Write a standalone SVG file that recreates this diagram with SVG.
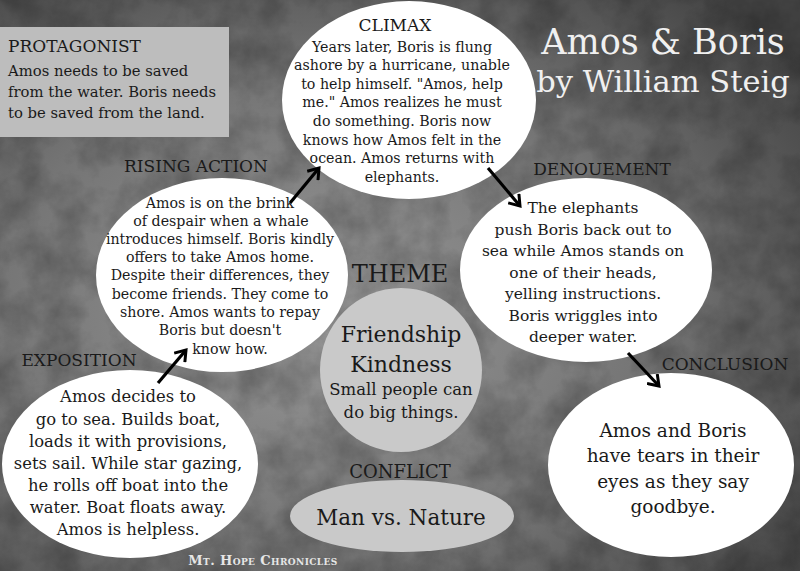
<svg xmlns="http://www.w3.org/2000/svg" width="800" height="571" viewBox="0 0 800 571">
<defs>
<radialGradient id="bg" cx="0.4" cy="0.55" r="0.75">
<stop offset="0" stop-color="#979797"/>
<stop offset="0.55" stop-color="#757575"/>
<stop offset="1" stop-color="#444"/>
</radialGradient>
<filter id="noise" x="0" y="0" width="100%" height="100%">
<feTurbulence type="fractalNoise" baseFrequency="0.025" numOctaves="5" seed="7"/>
<feColorMatrix type="matrix" values="0 0 0 0 0  0 0 0 0 0  0 0 0 0 0  0 0 0 1.1 -0.35"/>
</filter>
<marker id="head" markerWidth="16" markerHeight="16" refX="13" refY="8" orient="auto" markerUnits="userSpaceOnUse">
<path d="M3,1 L13,8 L3,15" fill="none" stroke="#000" stroke-width="3"/>
</marker>
<style>
text{font-family:'DejaVu Serif','Liberation Serif',serif}
.t{fill:#1a1a1a;text-anchor:middle}
.lab{font-size:17px}
.body{font-size:14.2px}
.node{fill:#fff}
.gray{fill:#c9c9c9}
.arrow{stroke:#000;stroke-width:3.2;fill:none;marker-end:url(#head)}
</style>
</defs>
<rect width="800" height="571" fill="url(#bg)"/>
<rect width="800" height="571" filter="url(#noise)" opacity="0.4"/>

<g id="title">
<text x="663" y="54" class="t" style="font-size:35px;fill:#f0f0f0">Amos &amp; Boris</text>
<text x="663" y="92" class="t" style="font-size:30.5px;fill:#f0f0f0">by William Steig</text>
</g>

<g id="protagonist">
<rect x="0" y="27" width="229" height="110" fill="#bdbdbd"/>
<text x="8" y="52" class="t lab" style="text-anchor:start">PROTAGONIST</text>
<text x="8" y="76" class="t" style="text-anchor:start;font-size:14.8px">Amos needs to be saved</text>
<text x="8" y="97" class="t" style="text-anchor:start;font-size:14.8px">from the water. Boris needs</text>
<text x="8" y="118" class="t" style="text-anchor:start;font-size:14.8px">to be saved from the land.</text>
</g>

<g id="climax">
<ellipse cx="409" cy="100" rx="127" ry="99" class="node"/>
<text x="395" y="31" class="t lab">CLIMAX</text>
<text x="402" y="52" class="t body">Years later, Boris is flung</text>
<text x="402" y="70" class="t body">ashore by a hurricane, unable</text>
<text x="402" y="89" class="t body">to help himself. "Amos, help</text>
<text x="402" y="107" class="t body">me." Amos realizes he must</text>
<text x="402" y="126" class="t body">do something. Boris now</text>
<text x="402" y="145" class="t body">knows how Amos felt in the</text>
<text x="402" y="163" class="t body">ocean. Amos returns with</text>
<text x="402" y="182" class="t body">elephants.</text>
</g>

<g id="rising-action">
<ellipse cx="222" cy="275" rx="126" ry="97" class="node"/>
<text x="196" y="172" class="t lab">RISING ACTION</text>
<text x="220" y="208" class="t body">Amos is on the brink</text>
<text x="221" y="226" class="t body">of despair when a whale</text>
<text x="220" y="244" class="t body">introduces himself. Boris kindly</text>
<text x="220" y="262" class="t body">offers to take Amos home.</text>
<text x="220" y="280" class="t body">Despite their differences, they</text>
<text x="220" y="299" class="t body">become friends. They come to</text>
<text x="220" y="317" class="t body">shore. Amos wants to repay</text>
<text x="220" y="335" class="t body">Boris but doesn't</text>
<text x="230" y="354" class="t body">know how.</text>
</g>

<g id="denouement">
<ellipse cx="586" cy="270" rx="126" ry="92" class="node"/>
<text x="602" y="175" class="t lab">DENOUEMENT</text>
<text x="583" y="213" class="t" style="font-size:15.5px">The elephants</text>
<text x="583" y="235" class="t" style="font-size:15.5px">push Boris back out to</text>
<text x="583" y="256" class="t" style="font-size:15.5px">sea while Amos stands on</text>
<text x="583" y="278" class="t" style="font-size:15.5px">one of their heads,</text>
<text x="583" y="299" class="t" style="font-size:15.5px">yelling instructions.</text>
<text x="583" y="321" class="t" style="font-size:15.5px">Boris wriggles into</text>
<text x="583" y="342" class="t" style="font-size:15.5px">deeper water.</text>
</g>

<g id="exposition">
<ellipse cx="130" cy="464" rx="128" ry="94" class="node"/>
<text x="79" y="366" class="t lab">EXPOSITION</text>
<text x="128" y="402" class="t" style="font-size:16.4px">Amos decides to</text>
<text x="128" y="425" class="t" style="font-size:16.4px">go to sea. Builds boat,</text>
<text x="128" y="447" class="t" style="font-size:16.4px">loads it with provisions,</text>
<text x="128" y="469" class="t" style="font-size:16.4px">sets sail. While star gazing,</text>
<text x="128" y="491" class="t" style="font-size:16.4px">he rolls off boat into the</text>
<text x="128" y="513" class="t" style="font-size:16.4px">water. Boat floats away.</text>
<text x="128" y="535" class="t" style="font-size:16.4px">Amos is helpless.</text>
</g>

<g id="conclusion">
<ellipse cx="671" cy="465" rx="123" ry="92" class="node"/>
<text x="725" y="370" class="t lab">CONCLUSION</text>
<text x="673" y="437" class="t" style="font-size:18.5px">Amos and Boris</text>
<text x="673" y="462" class="t" style="font-size:18.5px">have tears in their</text>
<text x="673" y="488" class="t" style="font-size:18.5px">eyes as they say</text>
<text x="673" y="513" class="t" style="font-size:18.5px">goodbye.</text>
</g>

<g id="theme">
<text x="400" y="282" class="t" style="font-size:24px">THEME</text>
<ellipse cx="401" cy="370" rx="81" ry="82" class="gray"/>
<text x="401" y="342" class="t" style="font-size:22px">Friendship</text>
<text x="401" y="372" class="t" style="font-size:22px">Kindness</text>
<text x="401" y="395" class="t" style="font-size:16.5px">Small people can</text>
<text x="401" y="418" class="t" style="font-size:16.5px">do big things.</text>
</g>

<g id="conflict">
<text x="400" y="478" class="t" style="font-size:18px">CONFLICT</text>
<ellipse cx="402" cy="516" rx="112" ry="36" class="gray"/>
<text x="401" y="525" class="t" style="font-size:21.5px">Man vs. Nature</text>
</g>

<g id="connectors">
<line x1="158" y1="383" x2="186" y2="350" class="arrow"/>
<line x1="290" y1="203" x2="319" y2="168" class="arrow"/>
<line x1="488" y1="168" x2="520" y2="206" class="arrow"/>
<line x1="628" y1="353" x2="659" y2="386" class="arrow"/>
</g>

<g id="footer">
<text x="263" y="565" class="t" style="font-size:13px;font-weight:bold;fill:#e6e6e6;font-variant:small-caps;letter-spacing:0.4px">Mt. Hope Chronicles</text>
</g>
</svg>
